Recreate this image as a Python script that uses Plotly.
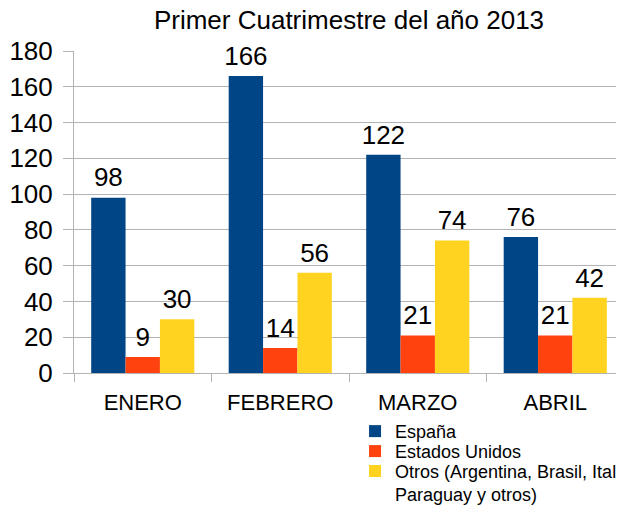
import plotly.graph_objects as go

categories = ["ENERO", "FEBRERO", "MARZO", "ABRIL"]
espana = [98, 166, 122, 76]
estados_unidos = [9, 14, 21, 21]
otros = [30, 56, 74, 42]
series_names = ["España", "Estados Unidos", "Otros (Argentina, Brasil, Italia,<br>Paraguay y otros)"]
colors = ["#004586", "#ff420e", "#ffd320"]
legend_ids = ["legend", "legend2", "legend3"]
legend_y = [-0.124, -0.186, -0.248]

FONT = "Liberation Sans"
fig = go.Figure()
for i, (name, vals, col) in enumerate(zip(series_names, [espana, estados_unidos, otros], colors)):
    fig.add_trace(go.Bar(
        x=categories, y=vals, name=name, marker=dict(color=col, line=dict(width=0)),
        offsetgroup=str(i), legend=legend_ids[i],
    ))
for i, vals in enumerate([espana, estados_unidos, otros]):
    fig.add_trace(go.Scatter(
        x=categories, y=vals, mode="markers+text", text=[str(v) for v in vals],
        textposition="top center", offsetgroup=str(i), showlegend=False,
        marker=dict(size=6, color="rgba(0,0,0,0)"), hoverinfo="skip", cliponaxis=False,
        textfont=dict(size=26, color="#000000", family=FONT),
    ))

layout_legends = {}
for lid, ly in zip(legend_ids, legend_y):
    layout_legends[lid] = dict(x=0.511, xanchor="left", y=ly, yanchor="top",
                               font=dict(size=18, family=FONT, color="#000000"),
                               itemwidth=30, bgcolor="rgba(0,0,0,0)", valign="top",
                               entrywidth=320, entrywidthmode="pixels")

fig.update_layout(
    width=624, height=505,
    margin=dict(l=66, r=8, t=43, b=140, autoexpand=False),
    paper_bgcolor="white", plot_bgcolor="white",
    barmode="group", bargap=0.25, bargroupgap=0,
    scattermode="group", scattergap=0.25,
    font=dict(family=FONT, color="#000000"),
    title=dict(text="Primer Cuatrimestre del año 2013", x=0.5, xref="paper", xanchor="center",
               y=0.976, yanchor="middle", font=dict(size=26, family=FONT)),
    showlegend=True,
    **layout_legends,
)
fig.update_yaxes(range=[0, 180], dtick=20, showgrid=True, gridcolor="#b3b3b3",
                 showline=True, linecolor="#b3b3b3", ticks="outside", ticklen=10,
                 tickcolor="#b3b3b3", tickfont=dict(size=26), zeroline=False,
                 ticklabelstandoff=5)
fig.update_xaxes(showline=True, linecolor="#b3b3b3", ticks="outside", ticklen=8,
                 tickcolor="#b3b3b3", tickson="boundaries", tickfont=dict(size=22),
                 showgrid=False, ticklabelstandoff=10)

fig.write_html("out.html")
